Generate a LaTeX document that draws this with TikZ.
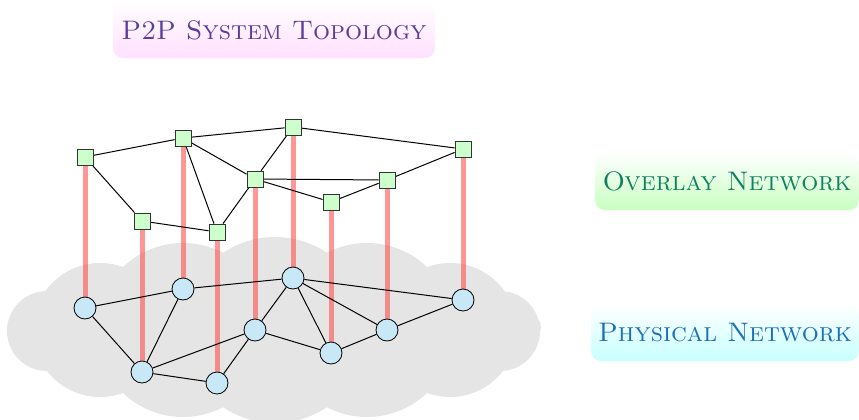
\documentclass[tikz,border=0pt]{standalone}
\pgfdeclarelayer{back}
\pgfdeclarelayer{links}
\pgfsetlayers{back,links,main}
\definecolor{peergreen}{HTML}{CCFFCC}
\definecolor{hostblue}{HTML}{C8E8F8}
\definecolor{mapred}{RGB}{255,80,80}
\definecolor{titlepurple}{HTML}{5B3C9C}
\definecolor{overlaygreen}{HTML}{0F8060}
\definecolor{physblue}{HTML}{1A70B8}

\begin{document}
\begin{tikzpicture}[x=0.5pt,y=-0.5pt,
    peer/.style={draw=black!80,fill=peergreen,minimum size=8pt,inner sep=0pt},
    host/.style={circle,draw=black,fill=hostblue,minimum size=11pt,inner sep=0pt},
    link/.style={line width=0.5pt},
    map/.style={line width=2.5pt,draw=mapred,opacity=0.6},
    tag/.style={rounded corners=5pt,minimum height=28.5pt,inner sep=0pt,
                font=\fontsize{13.4}{16}\selectfont}]
  \useasboundingbox (0,0) rectangle (859,419);

  % labels
  \node[tag,top color=white,bottom color={rgb,255:red,255;green,224;blue,255},
        text=titlepurple,minimum width=161pt,minimum height=28pt] (title) at (274,30) {\textsc{P2P System Topology}};
  \node[tag,top color=white,bottom color={rgb,255:red,200;green,255;blue,192},
        text=overlaygreen,minimum width=132pt] (overlay) at (727,181.5) {\textsc{Overlay Network}};
  \node[tag,top color=white,bottom color={rgb,255:red,200;green,255;blue,255},
        text=physblue,minimum width=134pt] (physical) at (725,332.5) {\textsc{Physical Network}};

  % the cloud, made of puffs
  \begin{pgfonlayer}{back}
    \fill[gray!20] (47,331) circle (40) (500,331) circle (40)
      (22,327) circle (13) (528,327) circle (13)
      (100,330) circle (67) (450,330) circle (67)
      (183,330) circle (87) (367,330) circle (87)
      (275,330) circle (93);
  \end{pgfonlayer}

  % overlay peers
  \node[peer] (o1) at (85,157) {};
  \node[peer] (o2) at (183,138) {};
  \node[peer] (o3) at (293,127) {};
  \node[peer] (o4) at (463,149) {};
  \node[peer] (o5) at (255,179) {};
  \node[peer] (o6) at (387,180) {};
  \node[peer] (o7) at (331,202) {};
  \node[peer] (o8) at (142,221) {};
  \node[peer] (o9) at (217,232) {};

  % physical hosts
  \node[host] (p1) at (85,308) {};
  \node[host] (p2) at (183,289) {};
  \node[host] (p3) at (293,278) {};
  \node[host] (p4) at (463,300) {};
  \node[host] (p5) at (255,330) {};
  \node[host] (p6) at (387,330) {};
  \node[host] (p7) at (331,353) {};
  \node[host] (p8) at (142,372) {};
  \node[host] (p9) at (217,383) {};

  \begin{pgfonlayer}{links}
    % mapping peers to hosts
    \foreach \i in {1,...,9}
      \draw[map] (o\i.center) -- (p\i.center);
    % overlay links
    \foreach \a/\b in {o1/o2,o2/o3,o3/o4,o1/o8,o8/o9,o2/o9,o2/o5,o3/o5,o5/o9,o5/o6,o5/o7,o7/o6,o6/o4}
      \draw[link] (\a) -- (\b);
    % physical links
    \foreach \a/\b in {p1/p2,p2/p3,p3/p4,p1/p8,p2/p8,p8/p5,p8/p9,p9/p5,p5/p3,p5/p7,p3/p7,p3/p6,p7/p6,p6/p4}
      \draw[link] (\a) -- (\b);
  \end{pgfonlayer}
\end{tikzpicture}
\end{document}
